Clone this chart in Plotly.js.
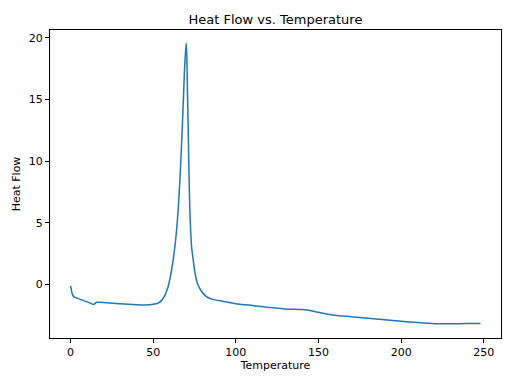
<!DOCTYPE html>
<html>
<head>
<meta charset="utf-8">
<script src="https://cdn.plot.ly/plotly-3.0.1.min.js"></script>
<style>html,body{margin:0;padding:0;background:#fff;}#chart{width:512px;height:384px;}</style>
</head>
<body>
<div id="chart"></div>
<script>
const temperature = [0, 0.5, 1, 2, 4, 8, 12, 14, 15, 16, 20, 30, 40, 45, 50, 53, 55, 57, 59, 60.5, 62, 63.5, 65, 66, 67, 68, 69, 69.9, 70.3, 70.7, 71.1, 71.6, 72.1, 72.6, 73.3, 74.3, 75.5, 77, 79, 82, 86, 92, 100, 110, 120, 130, 140, 145, 150, 155, 160, 170, 180, 190, 200, 210, 220, 230, 240, 248];
const heatFlow = [-0.1, -0.4, -0.75, -0.98, -1.1, -1.3, -1.5, -1.62, -1.5, -1.44, -1.45, -1.55, -1.63, -1.65, -1.6, -1.5, -1.3, -0.9, -0.2, 0.7, 1.9, 3.5, 5.8, 8.0, 10.8, 14.0, 17.5, 19.55, 18.8, 16.0, 13.3, 9.5, 6.5, 4.6, 3.0, 1.9, 0.8, 0.0, -0.5, -0.95, -1.2, -1.35, -1.55, -1.7, -1.85, -1.98, -2.03, -2.1, -2.25, -2.38, -2.48, -2.6, -2.72, -2.85, -2.97, -3.08, -3.17, -3.18, -3.16, -3.15];
const xTicks = [0, 50, 100, 150, 200, 250];
const yTicks = [0, 5, 10, 15, 20];

const axisCommon = {
  showline: true, mirror: true, linecolor: '#000', linewidth: 1,
  ticks: 'outside', ticklen: 4, tickwidth: 1, tickcolor: '#000',
  showgrid: false, zeroline: false,
  tickfont: {family: 'DejaVu Sans', size: 11, color: '#000'}
};

Plotly.newPlot('chart', [{
  x: temperature, y: heatFlow, type: 'scatter', mode: 'lines',
  line: {color: '#1f77b4', width: 1.5, shape: 'spline', smoothing: 0.6}
}], {
  width: 512, height: 384,
  margin: {l: 50, r: 11, t: 30, b: 46},
  paper_bgcolor: '#fff', plot_bgcolor: '#fff',
  font: {family: 'DejaVu Sans', color: '#000'},
  showlegend: false,
  title: {text: 'Heat Flow vs. Temperature', font: {family: 'DejaVu Sans', size: 13, color: '#000'},
          xref: 'paper', x: 0.5, xanchor: 'center', yref: 'paper', y: 1, yanchor: 'bottom', pad: {b: 6}},
  xaxis: Object.assign({}, axisCommon, {
    range: [-12.4, 260.4], tickvals: xTicks, ticktext: xTicks.map(String),
    title: {text: 'Temperature', font: {family: 'DejaVu Sans', size: 11, color: '#000'}, standoff: 2}
  }),
  yaxis: Object.assign({}, axisCommon, {
    range: [-4.33, 20.63], tickvals: yTicks, ticktext: yTicks.map(String),
    title: {text: 'Heat Flow', font: {family: 'DejaVu Sans', size: 11, color: '#000'}, standoff: 5}
  })
}, {staticPlot: true});
</script>
</body>
</html>
